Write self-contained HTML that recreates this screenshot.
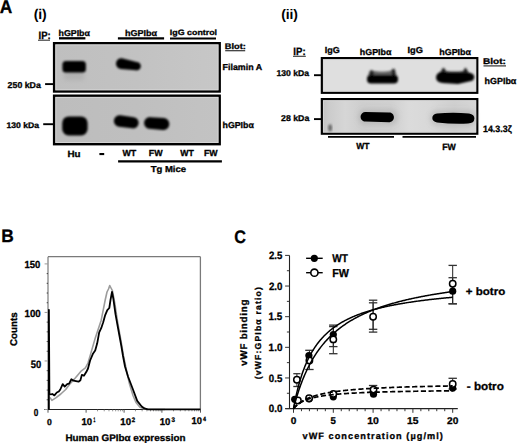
<!DOCTYPE html>
<html><head><meta charset="utf-8"><style>
html,body{margin:0;padding:0;background:#fff;}
body{width:520px;height:447px;overflow:hidden;}
svg{display:block;}
text{font-family:"Liberation Sans",sans-serif;fill:#000;stroke:#000;stroke-width:0.3px;text-rendering:geometricPrecision;}
</style></head><body>
<svg width="520" height="447" viewBox="0 0 520 447">
<defs>
<filter id="b0" x="-20%" y="-50%" width="140%" height="200%"><feGaussianBlur stdDeviation="0.6"/></filter>
<filter id="b1" x="-20%" y="-50%" width="140%" height="200%"><feGaussianBlur stdDeviation="0.9"/></filter>
<filter id="b2" x="-50%" y="-50%" width="200%" height="200%"><feGaussianBlur stdDeviation="2"/></filter>
<linearGradient id="gi1" x1="0" x2="1" y1="0" y2="0"><stop offset="0" stop-color="#bfbfbf"/><stop offset="0.5" stop-color="#c2c2c2"/><stop offset="1" stop-color="#c7c7c7"/></linearGradient>
<linearGradient id="gi2" x1="0" x2="1" y1="0" y2="0"><stop offset="0" stop-color="#bdbdbd"/><stop offset="0.5" stop-color="#bfbfbf"/><stop offset="1" stop-color="#c3c3c3"/></linearGradient>
<linearGradient id="g2" x1="0" x2="1" y1="0" y2="0"><stop offset="0" stop-color="#c2c2c2"/><stop offset="0.05" stop-color="#cccccc"/><stop offset="0.15" stop-color="#d6d6d6"/><stop offset="0.26" stop-color="#cecece"/><stop offset="0.45" stop-color="#d0d0d0"/><stop offset="0.56" stop-color="#dbdbdb"/><stop offset="0.7" stop-color="#d8d8d8"/><stop offset="0.85" stop-color="#cfcfcf"/><stop offset="1" stop-color="#d6d6d6"/></linearGradient>
</defs>
<text x="-0.13" y="12.50" font-size="18.41" font-weight="bold" textLength="12.50" lengthAdjust="spacingAndGlyphs" >A</text>
<text x="33.65" y="18.96" font-size="14.01" font-weight="bold" textLength="13.09" lengthAdjust="spacing" style="stroke-width:0">(i)</text>
<text x="38.53" y="38.90" font-size="10.72" font-weight="bold" textLength="12.15" lengthAdjust="spacingAndGlyphs" >IP:</text>
<line x1="38" y1="40.2" x2="50" y2="40.2" stroke="#333" stroke-width="1.1" />
<text x="58.53" y="35.70" font-size="8.55" font-weight="bold" textLength="31.40" lengthAdjust="spacingAndGlyphs" >hGPIb&#945;</text>
<line x1="59" y1="38.3" x2="85.4" y2="38.3" stroke="#000" stroke-width="2.3" />
<text x="124.92" y="35.70" font-size="8.55" font-weight="bold" textLength="32.01" lengthAdjust="spacingAndGlyphs" >hGPIb&#945;</text>
<line x1="117.9" y1="38.3" x2="164.1" y2="38.3" stroke="#000" stroke-width="2.3" />
<text x="169.87" y="35.10" font-size="7.72" font-weight="bold" textLength="47.22" lengthAdjust="spacingAndGlyphs" >IgG control</text>
<line x1="170" y1="38.4" x2="216" y2="38.4" stroke="#000" stroke-width="2" />
<rect x="54.1" y="43.2" width="165.6" height="48.300000000000004" fill="url(#gi1)" stroke="#000" stroke-width="2.4" />
<rect x="55.8" y="44.9" width="162.2" height="44.900000000000006" fill="none" stroke="#d8d8d8" stroke-width="1" opacity="0.8"/>
<rect x="54.1" y="95.7" width="165.6" height="48.50000000000001" fill="url(#gi2)" stroke="#000" stroke-width="2.4" />
<rect x="55.8" y="97.4" width="162.2" height="45.10000000000001" fill="none" stroke="#d8d8d8" stroke-width="1" opacity="0.8"/>
<text x="224.75" y="49.20" font-size="8.14" font-weight="bold" textLength="21.10" lengthAdjust="spacingAndGlyphs" >Blot:</text>
<line x1="225.2" y1="50.7" x2="245.2" y2="50.7" stroke="#333" stroke-width="1.2" />
<text x="222.57" y="70.40" font-size="8.69" font-weight="bold" textLength="39.53" lengthAdjust="spacingAndGlyphs" >Filamin A</text>
<text x="7.64" y="87.90" font-size="8.55" font-weight="bold" textLength="33.23" lengthAdjust="spacingAndGlyphs" >250 kDa</text>
<line x1="45.1" y1="84.1" x2="53" y2="84.1" stroke="#000" stroke-width="1.9" />
<text x="6.49" y="128.10" font-size="8.14" font-weight="bold" textLength="32.58" lengthAdjust="spacingAndGlyphs" >130 kDa</text>
<line x1="43.2" y1="124.2" x2="53" y2="124.2" stroke="#000" stroke-width="1.9" />
<text x="222.53" y="127.70" font-size="8.69" font-weight="bold" textLength="31.30" lengthAdjust="spacingAndGlyphs" >hGPIb&#945;</text>
<text x="67.51" y="156.60" font-size="8.99" font-weight="bold" textLength="13.11" lengthAdjust="spacingAndGlyphs" >Hu</text>
<rect x="99.4" y="153.0" width="4.8" height="2.1" fill="#000" stroke="none" stroke-width="0" />
<text x="122.45" y="156.10" font-size="8.70" font-weight="bold" textLength="13.79" lengthAdjust="spacingAndGlyphs" >WT</text>
<text x="148.77" y="156.10" font-size="8.70" font-weight="bold" textLength="13.82" lengthAdjust="spacingAndGlyphs" >FW</text>
<text x="180.15" y="156.10" font-size="8.70" font-weight="bold" textLength="13.58" lengthAdjust="spacingAndGlyphs" >WT</text>
<text x="203.98" y="156.10" font-size="8.70" font-weight="bold" textLength="13.71" lengthAdjust="spacingAndGlyphs" >FW</text>
<line x1="118.1" y1="161.4" x2="221.9" y2="161.4" stroke="#000" stroke-width="2.2" />
<text x="150.65" y="172.10" font-size="8.69" font-weight="bold" textLength="35.45" lengthAdjust="spacingAndGlyphs" >Tg Mice</text>
<rect x="64" y="70" width="20" height="10" fill="#8a8a8a" opacity="0.25" filter="url(#b2)"/>
<g filter="url(#b1)">
<rect x="62.4" y="60.9" width="23.5" height="11.5" rx="3.5" fill="#060606"/>
<path d="M116.00,63.60 L116.05,62.90 L116.18,62.20 L116.41,61.53 L116.72,60.90 L117.12,60.31 L117.58,59.78 L118.11,59.32 L118.70,58.92 L119.33,58.61 L120.00,58.38 L120.70,58.25 L121.40,58.20 L122.10,58.25 L122.80,58.38 L137.69,62.14 L138.21,62.32 L138.70,62.56 L139.16,62.87 L139.57,63.23 L139.93,63.64 L140.24,64.10 L140.48,64.59 L140.66,65.11 L140.76,65.65 L140.80,66.20 L140.76,66.75 L140.66,67.29 L140.48,67.81 L140.24,68.30 L139.93,68.76 L139.57,69.17 L139.16,69.53 L138.70,69.84 L138.21,70.08 L137.69,70.26 L137.15,70.36 L136.60,70.40 L136.05,70.36 L120.70,68.95 L120.00,68.82 L119.33,68.59 L118.70,68.28 L118.11,67.88 L117.58,67.42 L117.12,66.89 L116.72,66.30 L116.41,65.67 L116.18,65.00 L116.05,64.30Z" fill="#050505"/>
<rect x="62.2" y="116.4" width="25.4" height="19.1" rx="6.5" fill="#030303"/>
<path d="M113.90,121.00 L113.95,120.26 L114.09,119.52 L114.33,118.82 L114.66,118.15 L115.08,117.53 L115.57,116.97 L116.13,116.48 L116.75,116.06 L117.42,115.73 L118.12,115.49 L118.86,115.35 L119.60,115.30 L120.34,115.35 L133.73,117.25 L134.45,117.39 L135.14,117.63 L135.80,117.95 L136.41,118.36 L136.96,118.84 L137.44,119.39 L137.85,120.00 L138.17,120.66 L138.41,121.35 L138.55,122.07 L138.60,122.80 L138.55,123.53 L138.41,124.25 L138.17,124.94 L137.85,125.60 L137.44,126.21 L136.96,126.76 L136.41,127.24 L135.80,127.65 L135.14,127.97 L134.45,128.21 L133.73,128.35 L133.00,128.40 L132.27,128.35 L118.86,126.65 L118.12,126.51 L117.42,126.27 L116.75,125.94 L116.13,125.52 L115.57,125.03 L115.08,124.47 L114.66,123.85 L114.33,123.18 L114.09,122.48 L113.95,121.74Z" fill="#050505"/>
<path d="M144.10,123.00 L144.15,122.23 L144.30,121.47 L144.55,120.74 L144.89,120.05 L145.32,119.41 L145.83,118.83 L146.41,118.32 L147.05,117.89 L147.74,117.55 L148.47,117.30 L149.23,117.15 L150.00,117.10 L150.77,117.15 L164.08,118.05 L164.85,118.20 L165.60,118.46 L166.30,118.80 L166.95,119.24 L167.54,119.76 L168.06,120.35 L168.50,121.00 L168.84,121.70 L169.10,122.45 L169.25,123.22 L169.30,124.00 L169.25,124.78 L169.10,125.55 L168.84,126.30 L168.50,127.00 L168.06,127.65 L167.54,128.24 L166.95,128.76 L166.30,129.20 L165.60,129.54 L164.85,129.80 L164.08,129.95 L163.30,130.00 L162.52,129.95 L149.23,128.85 L148.47,128.70 L147.74,128.45 L147.05,128.11 L146.41,127.68 L145.83,127.17 L145.32,126.59 L144.89,125.95 L144.55,125.26 L144.30,124.53 L144.15,123.77Z" fill="#050505"/>
</g>
<line x1="82.2" y1="110.5" x2="82.2" y2="119" stroke="#222" stroke-width="2" filter="url(#b1)"/>
<line x1="83.5" y1="133" x2="83.5" y2="143" stroke="#666" stroke-width="1" opacity="0.6" filter="url(#b1)"/>
<text x="281.15" y="18.98" font-size="13.90" font-weight="bold" textLength="16.64" lengthAdjust="spacing" style="stroke-width:0">(ii)</text>
<text x="293.33" y="54.50" font-size="10.58" font-weight="bold" textLength="12.26" lengthAdjust="spacingAndGlyphs" >IP:</text>
<line x1="293" y1="56.3" x2="305.8" y2="56.3" stroke="#333" stroke-width="1.1" />
<text x="324.66" y="53.20" font-size="8.71" font-weight="bold" textLength="15.04" lengthAdjust="spacingAndGlyphs" >IgG</text>
<text x="359.83" y="54.60" font-size="8.69" font-weight="bold" textLength="31.60" lengthAdjust="spacingAndGlyphs" >hGPIb&#945;</text>
<text x="407.55" y="53.20" font-size="8.71" font-weight="bold" textLength="15.47" lengthAdjust="spacingAndGlyphs" >IgG</text>
<text x="439.22" y="54.60" font-size="8.69" font-weight="bold" textLength="31.81" lengthAdjust="spacingAndGlyphs" >hGPIb&#945;</text>
<rect x="321.85" y="58.1" width="155.45" height="34.7" fill="#dfdfdf" stroke="#000" stroke-width="2.2" />
<rect x="323.45" y="59.7" width="152.24999999999997" height="31.500000000000007" fill="none" stroke="#d8d8d8" stroke-width="1" opacity="0.8"/>
<rect x="321.85" y="99.1" width="155.45" height="34.60000000000001" fill="url(#g2)" stroke="#000" stroke-width="2.2" />
<rect x="323.45" y="100.7" width="152.24999999999997" height="31.400000000000013" fill="none" stroke="#d8d8d8" stroke-width="1" opacity="0.8"/>
<text x="483.00" y="63.70" font-size="8.28" font-weight="bold" textLength="22.93" lengthAdjust="spacingAndGlyphs" >Blot:</text>
<line x1="483.5" y1="65.9" x2="506" y2="65.9" stroke="#333" stroke-width="1.2" />
<text x="484.63" y="84.30" font-size="8.83" font-weight="bold" textLength="31.70" lengthAdjust="spacingAndGlyphs" >hGPIb&#945;</text>
<text x="482.97" y="131.70" font-size="9.24" font-weight="bold" textLength="28.82" lengthAdjust="spacingAndGlyphs" >14.3.3&#950;</text>
<text x="276.49" y="76.00" font-size="8.41" font-weight="bold" textLength="32.68" lengthAdjust="spacingAndGlyphs" >130 kDa</text>
<line x1="314" y1="75.2" x2="321" y2="75.2" stroke="#000" stroke-width="1.9" />
<text x="281.04" y="120.80" font-size="8.41" font-weight="bold" textLength="28.22" lengthAdjust="spacingAndGlyphs" >28 kDa</text>
<line x1="314" y1="119.1" x2="321" y2="119.1" stroke="#000" stroke-width="1.9" />
<line x1="328" y1="136.9" x2="394" y2="136.9" stroke="#000" stroke-width="1.6" />
<line x1="402.5" y1="136.9" x2="476" y2="136.9" stroke="#000" stroke-width="1.6" />
<text x="356.25" y="149.00" font-size="8.70" font-weight="bold" textLength="13.28" lengthAdjust="spacingAndGlyphs" >WT</text>
<text x="442.18" y="149.50" font-size="8.99" font-weight="bold" textLength="13.61" lengthAdjust="spacingAndGlyphs" >FW</text>
<g filter="url(#b1)">
<rect x="358" y="109" width="40" height="16" rx="7" fill="#999" opacity="0.35" filter="url(#b2)"/>
<rect x="430" y="110" width="46" height="16" rx="7" fill="#999" opacity="0.35" filter="url(#b2)"/>
<path d="M367.5,77 L370,70.5 L374,71 Q382,72.5 390,71 L393.5,68.5 L397.5,77 Z" fill="#4a4a4a" opacity="0.85"/>
<ellipse cx="371.6" cy="73.5" rx="2" ry="3.3" fill="#222"/>
<ellipse cx="393.6" cy="72.5" rx="1.8" ry="3.8" fill="#222"/>
<rect x="367.0" y="75.0" width="31" height="8.6" rx="4" fill="#050505"/>
<path d="M437,77 L441,71 L443.5,67.5 L446,71 Q455,72 463,71 L465.5,67.5 L468,71.5 L473,77 Z" fill="#333" opacity="0.9"/>
<ellipse cx="443.5" cy="71.5" rx="2" ry="3.3" fill="#222"/>
<ellipse cx="465.5" cy="71.8" rx="1.8" ry="3.5" fill="#222"/>
<path d="M436,77.5 Q436.5,72 442,72 L468,72.5 Q474.3,73 474.3,77 Q474.3,81 469,81.5 L458,84 L446,83.2 Q436,83.5 436,77.5Z" fill="#050505"/>
</g>
<g filter="url(#b0)">
<path d="M360.60,116.80 L360.64,116.17 L360.76,115.56 L360.97,114.96 L361.24,114.40 L361.59,113.88 L362.01,113.41 L362.48,112.99 L363.00,112.64 L363.56,112.37 L364.16,112.16 L364.77,112.04 L365.40,112.00 L389.00,112.40 L389.64,112.44 L390.27,112.57 L390.88,112.77 L391.45,113.06 L391.98,113.41 L392.46,113.84 L392.89,114.32 L393.24,114.85 L393.53,115.42 L393.73,116.03 L393.86,116.66 L393.90,117.30 L393.86,117.94 L393.73,118.57 L393.53,119.18 L393.24,119.75 L392.89,120.28 L392.46,120.76 L391.98,121.19 L391.45,121.54 L390.88,121.83 L390.27,122.03 L389.64,122.16 L389.00,122.20 L365.40,121.60 L364.77,121.56 L364.16,121.44 L363.56,121.23 L363.00,120.96 L362.48,120.61 L362.01,120.19 L361.59,119.72 L361.24,119.20 L360.97,118.64 L360.76,118.04 L360.64,117.43Z" fill="#050505"/>
<path d="M437,113.6 Q452,112.2 469,113.5 Q474.6,114.5 474.4,118.5 Q474.2,123.3 468,123.5 Q452,124.2 437,122.4 Q432.2,121.4 432.3,118 Q432.4,114.3 437,113.6Z" fill="#050505"/>
</g>
<ellipse cx="330.1" cy="127.8" rx="2" ry="3.6" fill="#555" opacity="0.8" filter="url(#b1)"/>
<text x="1.17" y="241.90" font-size="18.12" font-weight="bold" textLength="12.55" lengthAdjust="spacingAndGlyphs" >B</text>
<line x1="48.0" y1="256.7" x2="200.4" y2="256.7" stroke="#7a7a7a" stroke-width="1.3" />
<line x1="200.4" y1="256.7" x2="200.4" y2="409.5" stroke="#7a7a7a" stroke-width="1.3" />
<line x1="48.0" y1="256.7" x2="48.0" y2="409.5" stroke="#7a7a7a" stroke-width="1.2" />
<line x1="44.3" y1="409.5" x2="200.4" y2="409.5" stroke="#222" stroke-width="1.1" />
<line x1="44.6" y1="409.5" x2="48.0" y2="409.5" stroke="#999" stroke-width="1.0" />
<line x1="46.7" y1="399.79333333333335" x2="48.0" y2="399.79333333333335" stroke="#444" stroke-width="1.0" />
<line x1="46.7" y1="390.08666666666664" x2="48.0" y2="390.08666666666664" stroke="#444" stroke-width="1.0" />
<line x1="46.7" y1="380.38" x2="48.0" y2="380.38" stroke="#444" stroke-width="1.0" />
<line x1="46.7" y1="370.67333333333335" x2="48.0" y2="370.67333333333335" stroke="#444" stroke-width="1.0" />
<line x1="44.6" y1="360.96666666666664" x2="48.0" y2="360.96666666666664" stroke="#999" stroke-width="1.0" />
<line x1="46.7" y1="351.26" x2="48.0" y2="351.26" stroke="#444" stroke-width="1.0" />
<line x1="46.7" y1="341.55333333333334" x2="48.0" y2="341.55333333333334" stroke="#444" stroke-width="1.0" />
<line x1="46.7" y1="331.8466666666667" x2="48.0" y2="331.8466666666667" stroke="#444" stroke-width="1.0" />
<line x1="46.7" y1="322.14" x2="48.0" y2="322.14" stroke="#444" stroke-width="1.0" />
<line x1="44.6" y1="312.43333333333334" x2="48.0" y2="312.43333333333334" stroke="#999" stroke-width="1.0" />
<line x1="46.7" y1="302.7266666666667" x2="48.0" y2="302.7266666666667" stroke="#444" stroke-width="1.0" />
<line x1="46.7" y1="293.02" x2="48.0" y2="293.02" stroke="#444" stroke-width="1.0" />
<line x1="46.7" y1="283.31333333333333" x2="48.0" y2="283.31333333333333" stroke="#444" stroke-width="1.0" />
<line x1="46.7" y1="273.6066666666667" x2="48.0" y2="273.6066666666667" stroke="#444" stroke-width="1.0" />
<line x1="44.6" y1="263.9" x2="48.0" y2="263.9" stroke="#999" stroke-width="1.0" />
<text x="24.43" y="267.50" font-size="10.29" font-weight="bold" textLength="15.83" lengthAdjust="spacingAndGlyphs" >150</text>
<text x="24.52" y="317.30" font-size="10.29" font-weight="bold" textLength="16.26" lengthAdjust="spacingAndGlyphs" >100</text>
<text x="30.87" y="367.60" font-size="10.57" font-weight="bold" textLength="10.48" lengthAdjust="spacingAndGlyphs" >50</text>
<text x="33.82" y="416.40" font-size="10.14" font-weight="bold" textLength="4.57" lengthAdjust="spacingAndGlyphs" >0</text>
<text transform="translate(16.90,345.94) rotate(-90)" x="0" y="0" font-size="9.79" font-weight="bold" textLength="33.57" lengthAdjust="spacingAndGlyphs">Counts</text>
<text x="46.90" y="424.50" font-size="8.71" font-weight="bold" textLength="4.80" lengthAdjust="spacingAndGlyphs" >0</text>
<text x="81.43" y="424.80" font-size="9.86" font-weight="bold" textLength="10.63" lengthAdjust="spacingAndGlyphs" >10</text>
<text x="93.44" y="421.90" font-size="6.52" font-weight="bold" textLength="1.79" lengthAdjust="spacingAndGlyphs" >1</text>
<line x1="86.1" y1="409.5" x2="86.1" y2="412.7" stroke="#444" stroke-width="0.9" />
<text x="120.32" y="424.80" font-size="9.86" font-weight="bold" textLength="10.74" lengthAdjust="spacingAndGlyphs" >10</text>
<text x="131.74" y="421.90" font-size="6.43" font-weight="bold" textLength="3.36" lengthAdjust="spacingAndGlyphs" >2</text>
<line x1="124.1" y1="409.5" x2="124.1" y2="412.7" stroke="#444" stroke-width="0.9" />
<text x="159.73" y="424.80" font-size="9.86" font-weight="bold" textLength="10.63" lengthAdjust="spacingAndGlyphs" >10</text>
<text x="171.39" y="421.90" font-size="6.71" font-weight="bold" textLength="3.48" lengthAdjust="spacingAndGlyphs" >3</text>
<line x1="161.9" y1="409.5" x2="161.9" y2="412.7" stroke="#444" stroke-width="0.9" />
<text x="191.54" y="424.20" font-size="9.86" font-weight="bold" textLength="10.40" lengthAdjust="spacingAndGlyphs" >10</text>
<text x="202.97" y="420.60" font-size="6.09" font-weight="bold" textLength="3.01" lengthAdjust="spacingAndGlyphs" >4</text>
<line x1="200.5" y1="409.5" x2="200.5" y2="412.7" stroke="#444" stroke-width="0.9" />
<line x1="48.0" y1="409.5" x2="48.0" y2="412.7" stroke="#444" stroke-width="0.9" />
<line x1="97.54" y1="409.5" x2="97.54" y2="411.3" stroke="#666" stroke-width="0.7" />
<line x1="104.23" y1="409.5" x2="104.23" y2="411.3" stroke="#666" stroke-width="0.7" />
<line x1="108.98" y1="409.5" x2="108.98" y2="411.3" stroke="#666" stroke-width="0.7" />
<line x1="112.66" y1="409.5" x2="112.66" y2="411.3" stroke="#666" stroke-width="0.7" />
<line x1="115.67" y1="409.5" x2="115.67" y2="411.3" stroke="#666" stroke-width="0.7" />
<line x1="118.21" y1="409.5" x2="118.21" y2="411.3" stroke="#666" stroke-width="0.7" />
<line x1="120.42" y1="409.5" x2="120.42" y2="411.3" stroke="#666" stroke-width="0.7" />
<line x1="122.36" y1="409.5" x2="122.36" y2="411.3" stroke="#666" stroke-width="0.7" />
<line x1="135.48" y1="409.5" x2="135.48" y2="411.3" stroke="#666" stroke-width="0.7" />
<line x1="142.14" y1="409.5" x2="142.14" y2="411.3" stroke="#666" stroke-width="0.7" />
<line x1="146.86" y1="409.5" x2="146.86" y2="411.3" stroke="#666" stroke-width="0.7" />
<line x1="150.52" y1="409.5" x2="150.52" y2="411.3" stroke="#666" stroke-width="0.7" />
<line x1="153.51" y1="409.5" x2="153.51" y2="411.3" stroke="#666" stroke-width="0.7" />
<line x1="156.04" y1="409.5" x2="156.04" y2="411.3" stroke="#666" stroke-width="0.7" />
<line x1="158.24" y1="409.5" x2="158.24" y2="411.3" stroke="#666" stroke-width="0.7" />
<line x1="160.17" y1="409.5" x2="160.17" y2="411.3" stroke="#666" stroke-width="0.7" />
<line x1="173.52" y1="409.5" x2="173.52" y2="411.3" stroke="#666" stroke-width="0.7" />
<line x1="180.32" y1="409.5" x2="180.32" y2="411.3" stroke="#666" stroke-width="0.7" />
<line x1="185.14" y1="409.5" x2="185.14" y2="411.3" stroke="#666" stroke-width="0.7" />
<line x1="188.88" y1="409.5" x2="188.88" y2="411.3" stroke="#666" stroke-width="0.7" />
<line x1="191.94" y1="409.5" x2="191.94" y2="411.3" stroke="#666" stroke-width="0.7" />
<line x1="194.52" y1="409.5" x2="194.52" y2="411.3" stroke="#666" stroke-width="0.7" />
<line x1="196.76" y1="409.5" x2="196.76" y2="411.3" stroke="#666" stroke-width="0.7" />
<line x1="198.73" y1="409.5" x2="198.73" y2="411.3" stroke="#666" stroke-width="0.7" />
<text x="65.41" y="441.30" font-size="9.52" font-weight="bold" textLength="120.02" lengthAdjust="spacingAndGlyphs" >Human GPIb&#945; expression</text>
<polyline points="49.90,397.40 51.90,400.40 55.80,397.90 60.80,394.00 65.70,389.50 70.60,383.10 75.50,377.70 81.40,370.80 85.40,367.90 88.00,363.00 91.10,352.40 95.20,338.30 99.20,326.20 101.20,320.20 103.20,310.10 105.20,300.00 107.00,292.00 108.50,289.00 109.75,285.60 111.00,288.00 112.40,290.70 114.80,303.20 117.10,318.90 119.00,330.00 121.00,341.00 123.50,356.00 126.50,370.50 129.50,384.00 133.00,395.50 136.00,402.50 140.00,407.30 145.00,409.20 165.00,409.50" fill="none" stroke="#9c9c9c" stroke-width="1.6" stroke-linejoin="round"/>
<polyline points="48.90,409.50 48.90,309.80 49.40,394.00 50.90,394.40 52.40,394.00 54.40,395.40 56.80,392.50 58.80,391.50 60.30,389.50 62.70,384.10 64.70,386.60 67.20,384.10 69.10,383.60 71.40,379.20 73.60,380.70 76.00,381.20 78.50,381.70 80.40,380.20 81.90,374.80 83.90,375.70 86.40,371.80 88.00,368.50 90.10,360.50 93.10,353.40 95.20,350.40 97.20,343.30 99.20,332.30 101.20,328.20 103.20,322.20 105.20,315.10 107.30,310.10 109.30,308.00 110.50,300.00 112.00,291.90 113.30,298.50 115.50,314.20 117.30,324.20 119.50,336.00 121.40,346.40 123.00,356.00 125.00,366.50 128.10,376.70 132.70,388.80 137.20,400.90 141.70,406.50 144.50,408.50 148.00,409.30 200.40,409.30" fill="none" stroke="#000" stroke-width="1.8" stroke-linejoin="round"/>
<text x="234.35" y="242.90" font-size="18.14" font-weight="bold" textLength="11.69" lengthAdjust="spacingAndGlyphs" >C</text>
<line x1="289.5" y1="255.4" x2="289.5" y2="408.6" stroke="#222" stroke-width="1.1" />
<line x1="285.3" y1="408.6" x2="457.8" y2="408.6" stroke="#222" stroke-width="1.1" />
<line x1="285.1" y1="408.6" x2="289.5" y2="408.6" stroke="#333" stroke-width="1" />
<line x1="286.9" y1="393.28000000000003" x2="289.5" y2="393.28000000000003" stroke="#333" stroke-width="1" />
<line x1="285.1" y1="377.96000000000004" x2="289.5" y2="377.96000000000004" stroke="#333" stroke-width="1" />
<line x1="286.9" y1="362.64" x2="289.5" y2="362.64" stroke="#333" stroke-width="1" />
<line x1="285.1" y1="347.32" x2="289.5" y2="347.32" stroke="#333" stroke-width="1" />
<line x1="286.9" y1="332.0" x2="289.5" y2="332.0" stroke="#333" stroke-width="1" />
<line x1="285.1" y1="316.68" x2="289.5" y2="316.68" stroke="#333" stroke-width="1" />
<line x1="286.9" y1="301.36" x2="289.5" y2="301.36" stroke="#333" stroke-width="1" />
<line x1="285.1" y1="286.04" x2="289.5" y2="286.04" stroke="#333" stroke-width="1" />
<line x1="286.9" y1="270.72" x2="289.5" y2="270.72" stroke="#333" stroke-width="1" />
<line x1="285.1" y1="255.4" x2="289.5" y2="255.4" stroke="#333" stroke-width="1" />
<text x="268.86" y="412.20" font-size="10.71" font-weight="bold" textLength="13.58" lengthAdjust="spacingAndGlyphs" >0.0</text>
<text x="268.86" y="381.56" font-size="10.71" font-weight="bold" textLength="13.43" lengthAdjust="spacingAndGlyphs" >0.5</text>
<text x="268.60" y="350.92" font-size="10.71" font-weight="bold" textLength="13.85" lengthAdjust="spacingAndGlyphs" >1.0</text>
<text x="268.61" y="320.28" font-size="10.87" font-weight="bold" textLength="13.69" lengthAdjust="spacingAndGlyphs" >1.5</text>
<text x="268.91" y="289.64" font-size="10.71" font-weight="bold" textLength="13.53" lengthAdjust="spacingAndGlyphs" >2.0</text>
<text x="268.91" y="259.00" font-size="10.71" font-weight="bold" textLength="13.38" lengthAdjust="spacingAndGlyphs" >2.5</text>
<line x1="293.5" y1="408.6" x2="293.5" y2="412.8" stroke="#333" stroke-width="1" />
<line x1="301.46" y1="408.6" x2="301.46" y2="411.20000000000005" stroke="#333" stroke-width="1" />
<line x1="309.42" y1="408.6" x2="309.42" y2="411.20000000000005" stroke="#333" stroke-width="1" />
<line x1="317.38" y1="408.6" x2="317.38" y2="411.20000000000005" stroke="#333" stroke-width="1" />
<line x1="325.34" y1="408.6" x2="325.34" y2="411.20000000000005" stroke="#333" stroke-width="1" />
<line x1="333.3" y1="408.6" x2="333.3" y2="412.8" stroke="#333" stroke-width="1" />
<line x1="341.26" y1="408.6" x2="341.26" y2="411.20000000000005" stroke="#333" stroke-width="1" />
<line x1="349.22" y1="408.6" x2="349.22" y2="411.20000000000005" stroke="#333" stroke-width="1" />
<line x1="357.18" y1="408.6" x2="357.18" y2="411.20000000000005" stroke="#333" stroke-width="1" />
<line x1="365.14" y1="408.6" x2="365.14" y2="411.20000000000005" stroke="#333" stroke-width="1" />
<line x1="373.1" y1="408.6" x2="373.1" y2="412.8" stroke="#333" stroke-width="1" />
<line x1="381.06" y1="408.6" x2="381.06" y2="411.20000000000005" stroke="#333" stroke-width="1" />
<line x1="389.02" y1="408.6" x2="389.02" y2="411.20000000000005" stroke="#333" stroke-width="1" />
<line x1="396.98" y1="408.6" x2="396.98" y2="411.20000000000005" stroke="#333" stroke-width="1" />
<line x1="404.94" y1="408.6" x2="404.94" y2="411.20000000000005" stroke="#333" stroke-width="1" />
<line x1="412.9" y1="408.6" x2="412.9" y2="412.8" stroke="#333" stroke-width="1" />
<line x1="420.86" y1="408.6" x2="420.86" y2="411.20000000000005" stroke="#333" stroke-width="1" />
<line x1="428.82" y1="408.6" x2="428.82" y2="411.20000000000005" stroke="#333" stroke-width="1" />
<line x1="436.78" y1="408.6" x2="436.78" y2="411.20000000000005" stroke="#333" stroke-width="1" />
<line x1="444.74" y1="408.6" x2="444.74" y2="411.20000000000005" stroke="#333" stroke-width="1" />
<line x1="452.7" y1="408.6" x2="452.7" y2="412.8" stroke="#333" stroke-width="1" />
<text x="290.70" y="423.80" font-size="9.86" font-weight="bold" textLength="5.62" lengthAdjust="spacingAndGlyphs" >0</text>
<text x="330.61" y="423.80" font-size="10.00" font-weight="bold" textLength="5.34" lengthAdjust="spacingAndGlyphs" >5</text>
<text x="367.17" y="423.80" font-size="9.86" font-weight="bold" textLength="11.62" lengthAdjust="spacingAndGlyphs" >10</text>
<text x="406.98" y="423.80" font-size="10.00" font-weight="bold" textLength="11.45" lengthAdjust="spacingAndGlyphs" >15</text>
<text x="447.09" y="423.80" font-size="9.86" font-weight="bold" textLength="11.28" lengthAdjust="spacingAndGlyphs" >20</text>
<text x="302.50" y="439.00" font-size="9.17" font-weight="bold" textLength="140.37" lengthAdjust="spacing" >vWF concentration (&#181;g/ml)</text>
<text transform="translate(246.80,365.70) rotate(-90)" x="0" y="0" font-size="9.72" font-weight="bold" textLength="66.07" lengthAdjust="spacing">vWF binding</text>
<text transform="translate(260.60,379.28) rotate(-90)" x="0" y="0" font-size="8.62" font-weight="bold" textLength="92.15" lengthAdjust="spacing">(vWF:GPIb&#945; ratio)</text>
<line x1="306.1" y1="258.3" x2="322.7" y2="258.3" stroke="#000" stroke-width="1.4" />
<circle cx="314.3" cy="258.3" r="3.6" fill="#000"/>
<text x="332.25" y="262.00" font-size="11.16" font-weight="bold" textLength="15.70" lengthAdjust="spacingAndGlyphs" >WT</text>
<line x1="306.1" y1="272.7" x2="322.7" y2="272.7" stroke="#000" stroke-width="1.4" />
<circle cx="314.4" cy="272.7" r="3.6" fill="#fff" stroke="#000" stroke-width="1.6"/>
<text x="332.15" y="276.70" font-size="11.59" font-weight="bold" textLength="16.75" lengthAdjust="spacingAndGlyphs" >FW</text>
<text x="465.89" y="294.80" font-size="10.76" font-weight="bold" textLength="39.34" lengthAdjust="spacingAndGlyphs" >+ botro</text>
<text x="466.78" y="390.30" font-size="11.31" font-weight="bold" textLength="37.04" lengthAdjust="spacingAndGlyphs" >- botro</text>
<line x1="296.9" y1="373.7" x2="296.9" y2="386.5" stroke="#222" stroke-width="1.0" />
<line x1="293.29999999999995" y1="373.7" x2="300.5" y2="373.7" stroke="#333" stroke-width="1.3" />
<line x1="293.29999999999995" y1="386.5" x2="300.5" y2="386.5" stroke="#333" stroke-width="1.3" />
<line x1="309.42" y1="350.3" x2="309.42" y2="369.5" stroke="#222" stroke-width="1.0" />
<line x1="305.22" y1="350.3" x2="313.62" y2="350.3" stroke="#333" stroke-width="1.3" />
<line x1="305.22" y1="369.5" x2="313.62" y2="369.5" stroke="#333" stroke-width="1.3" />
<line x1="333.3" y1="325.1" x2="333.3" y2="346.6" stroke="#222" stroke-width="1.0" />
<line x1="329.1" y1="325.1" x2="337.5" y2="325.1" stroke="#333" stroke-width="1.3" />
<line x1="329.1" y1="346.6" x2="337.5" y2="346.6" stroke="#333" stroke-width="1.3" />
<line x1="333.3" y1="326.6" x2="333.3" y2="353.7" stroke="#222" stroke-width="1.0" />
<line x1="329.1" y1="326.6" x2="337.5" y2="326.6" stroke="#333" stroke-width="1.3" />
<line x1="329.1" y1="353.7" x2="337.5" y2="353.7" stroke="#333" stroke-width="1.3" />
<line x1="373.1" y1="300.2" x2="373.1" y2="329.3" stroke="#222" stroke-width="1.0" />
<line x1="368.90000000000003" y1="300.2" x2="377.3" y2="300.2" stroke="#333" stroke-width="1.3" />
<line x1="368.90000000000003" y1="329.3" x2="377.3" y2="329.3" stroke="#333" stroke-width="1.3" />
<line x1="373.1" y1="302.8" x2="373.1" y2="332.1" stroke="#222" stroke-width="1.0" />
<line x1="368.90000000000003" y1="302.8" x2="377.3" y2="302.8" stroke="#333" stroke-width="1.3" />
<line x1="368.90000000000003" y1="332.1" x2="377.3" y2="332.1" stroke="#333" stroke-width="1.3" />
<line x1="452.7" y1="265.4" x2="452.7" y2="303.8" stroke="#222" stroke-width="1.0" />
<line x1="448.5" y1="265.4" x2="456.9" y2="265.4" stroke="#333" stroke-width="1.3" />
<line x1="448.5" y1="303.8" x2="456.9" y2="303.8" stroke="#333" stroke-width="1.3" />
<line x1="452.7" y1="277.7" x2="452.7" y2="303.8" stroke="#222" stroke-width="1.0" />
<line x1="448.5" y1="277.7" x2="456.9" y2="277.7" stroke="#333" stroke-width="1.3" />
<line x1="448.5" y1="303.8" x2="456.9" y2="303.8" stroke="#333" stroke-width="1.3" />
<line x1="373.1" y1="385.5" x2="373.1" y2="392" stroke="#222" stroke-width="1.0" />
<line x1="368.90000000000003" y1="385.5" x2="377.3" y2="385.5" stroke="#333" stroke-width="1.3" />
<line x1="368.90000000000003" y1="392" x2="377.3" y2="392" stroke="#333" stroke-width="1.3" />
<line x1="452.7" y1="378.3" x2="452.7" y2="389" stroke="#222" stroke-width="1.0" />
<line x1="448.5" y1="378.3" x2="456.9" y2="378.3" stroke="#333" stroke-width="1.3" />
<line x1="448.5" y1="389" x2="456.9" y2="389" stroke="#333" stroke-width="1.3" />
<circle cx="308.90" cy="355.60" r="3.6" fill="#000"/>
<circle cx="333.30" cy="334.50" r="3.6" fill="#000"/>
<circle cx="452.70" cy="291.20" r="3.6" fill="#000"/>
<circle cx="296.90" cy="379.80" r="3.2" fill="#fff" stroke="#000" stroke-width="1.5"/>
<circle cx="309.40" cy="360.50" r="3.2" fill="#fff" stroke="#000" stroke-width="1.5"/>
<circle cx="333.30" cy="339.40" r="3.2" fill="#fff" stroke="#000" stroke-width="1.5"/>
<circle cx="373.10" cy="316.70" r="3.2" fill="#fff" stroke="#000" stroke-width="1.5"/>
<circle cx="452.70" cy="283.80" r="3.2" fill="#fff" stroke="#000" stroke-width="1.5"/>
<circle cx="294.70" cy="399.30" r="3.6" fill="#000"/>
<circle cx="297.90" cy="400.50" r="3.2" fill="#fff" stroke="#000" stroke-width="1.5"/>
<circle cx="309.10" cy="398.80" r="3.6" fill="#000"/>
<circle cx="309.10" cy="398.30" r="3.2" fill="#fff" stroke="#000" stroke-width="1.5"/>
<circle cx="333.30" cy="396.80" r="3.6" fill="#000"/>
<circle cx="333.30" cy="393.90" r="3.2" fill="#fff" stroke="#000" stroke-width="1.5"/>
<circle cx="373.50" cy="394.20" r="3.6" fill="#000"/>
<circle cx="373.50" cy="389.60" r="3.2" fill="#fff" stroke="#000" stroke-width="1.5"/>
<circle cx="452.70" cy="388.10" r="3.6" fill="#000"/>
<circle cx="452.70" cy="384.00" r="3.2" fill="#fff" stroke="#000" stroke-width="1.5"/>
<polyline points="293.50,408.60 294.30,405.54 295.09,402.60 295.89,399.78 296.68,397.08 297.48,394.48 298.28,391.98 299.07,389.58 299.87,387.27 300.66,385.04 301.46,382.88 302.26,380.81 303.05,378.81 303.85,376.87 304.64,375.00 305.44,373.19 306.24,371.44 307.03,369.74 307.83,368.10 308.62,366.51 309.42,364.96 310.22,363.46 311.01,362.01 311.81,360.60 312.60,359.23 313.40,357.89 314.20,356.60 314.99,355.34 315.79,354.11 316.58,352.92 317.38,351.75 318.18,350.62 318.97,349.52 319.77,348.44 320.56,347.40 321.36,346.37 322.16,345.38 322.95,344.40 323.75,343.45 324.54,342.53 325.34,341.62 326.14,340.73 326.93,339.87 327.73,339.02 328.52,338.20 329.32,337.39 330.12,336.60 330.91,335.82 331.71,335.06 332.50,334.32 333.30,333.60 334.10,332.88 334.89,332.19 335.69,331.50 336.48,330.84 337.28,330.18 338.08,329.54 338.87,328.91 339.67,328.29 340.46,327.68 341.26,327.09 342.06,326.50 342.85,325.93 343.65,325.37 344.44,324.81 345.24,324.27 346.04,323.74 346.83,323.21 347.63,322.70 348.42,322.20 349.22,321.70 350.02,321.21 350.81,320.73 351.61,320.26 352.40,319.80 353.20,319.34 354.00,318.89 354.79,318.45 355.59,318.01 356.38,317.59 357.18,317.17 357.98,316.75 358.77,316.34 359.57,315.94 360.36,315.55 361.16,315.16 361.96,314.78 362.75,314.40 363.55,314.03 364.34,313.66 365.14,313.30 365.94,312.95 366.73,312.59 367.53,312.25 368.32,311.91 369.12,311.57 369.92,311.24 370.71,310.92 371.51,310.59 372.30,310.28 373.10,309.96 373.90,309.66 374.69,309.35 375.49,309.05 376.28,308.75 377.08,308.46 377.88,308.17 378.67,307.89 379.47,307.61 380.26,307.33 381.06,307.06 381.86,306.79 382.65,306.52 383.45,306.25 384.24,305.99 385.04,305.74 385.84,305.48 386.63,305.23 387.43,304.98 388.22,304.74 389.02,304.50 389.82,304.26 390.61,304.02 391.41,303.79 392.20,303.56 393.00,303.33 393.80,303.11 394.59,302.88 395.39,302.66 396.18,302.45 396.98,302.23 397.78,302.02 398.57,301.81 399.37,301.60 400.16,301.39 400.96,301.19 401.76,300.99 402.55,300.79 403.35,300.59 404.14,300.40 404.94,300.21 405.74,300.02 406.53,299.83 407.33,299.64 408.12,299.46 408.92,299.27 409.72,299.09 410.51,298.92 411.31,298.74 412.10,298.56 412.90,298.39 413.70,298.22 414.49,298.05 415.29,297.88 416.08,297.71 416.88,297.55 417.68,297.39 418.47,297.22 419.27,297.06 420.06,296.91 420.86,296.75 421.66,296.59 422.45,296.44 423.25,296.29 424.04,296.14 424.84,295.99 425.64,295.84 426.43,295.69 427.23,295.55 428.02,295.40 428.82,295.26 429.62,295.12 430.41,294.98 431.21,294.84 432.00,294.70 432.80,294.57 433.60,294.43 434.39,294.30 435.19,294.17 435.98,294.03 436.78,293.90 437.58,293.77 438.37,293.65 439.17,293.52 439.96,293.39 440.76,293.27 441.56,293.15 442.35,293.02 443.15,292.90 443.94,292.78 444.74,292.66 445.54,292.54 446.33,292.43 447.13,292.31 447.92,292.19 448.72,292.08 449.52,291.97 450.31,291.85 451.11,291.74 451.90,291.63 452.70,291.52" fill="none" stroke="#000" stroke-width="1.5"/>
<polyline points="293.50,408.60 294.30,404.35 295.09,400.38 295.89,396.65 296.68,393.15 297.48,389.86 298.28,386.75 299.07,383.82 299.87,381.04 300.66,378.41 301.46,375.92 302.26,373.55 303.05,371.29 303.85,369.15 304.64,367.10 305.44,365.15 306.24,363.28 307.03,361.49 307.83,359.78 308.62,358.15 309.42,356.57 310.22,355.07 311.01,353.62 311.81,352.22 312.60,350.88 313.40,349.59 314.20,348.35 314.99,347.14 315.79,345.99 316.58,344.87 317.38,343.79 318.18,342.74 318.97,341.73 319.77,340.76 320.56,339.81 321.36,338.89 322.16,338.01 322.95,337.14 323.75,336.31 324.54,335.50 325.34,334.71 326.14,333.94 326.93,333.20 327.73,332.48 328.52,331.77 329.32,331.09 330.12,330.42 330.91,329.77 331.71,329.14 332.50,328.53 333.30,327.93 334.10,327.34 334.89,326.77 335.69,326.22 336.48,325.67 337.28,325.14 338.08,324.62 338.87,324.12 339.67,323.63 340.46,323.14 341.26,322.67 342.06,322.21 342.85,321.76 343.65,321.32 344.44,320.88 345.24,320.46 346.04,320.05 346.83,319.64 347.63,319.24 348.42,318.86 349.22,318.48 350.02,318.10 350.81,317.74 351.61,317.38 352.40,317.03 353.20,316.68 354.00,316.34 354.79,316.01 355.59,315.68 356.38,315.36 357.18,315.05 357.98,314.74 358.77,314.44 359.57,314.14 360.36,313.85 361.16,313.56 361.96,313.28 362.75,313.00 363.55,312.73 364.34,312.46 365.14,312.20 365.94,311.94 366.73,311.69 367.53,311.44 368.32,311.19 369.12,310.95 369.92,310.71 370.71,310.47 371.51,310.24 372.30,310.02 373.10,309.79 373.90,309.57 374.69,309.35 375.49,309.14 376.28,308.93 377.08,308.72 377.88,308.52 378.67,308.32 379.47,308.12 380.26,307.92 381.06,307.73 381.86,307.54 382.65,307.35 383.45,307.17 384.24,306.99 385.04,306.81 385.84,306.63 386.63,306.46 387.43,306.28 388.22,306.11 389.02,305.95 389.82,305.78 390.61,305.62 391.41,305.46 392.20,305.30 393.00,305.14 393.80,304.99 394.59,304.83 395.39,304.68 396.18,304.53 396.98,304.39 397.78,304.24 398.57,304.10 399.37,303.95 400.16,303.81 400.96,303.68 401.76,303.54 402.55,303.41 403.35,303.27 404.14,303.14 404.94,303.01 405.74,302.88 406.53,302.75 407.33,302.63 408.12,302.50 408.92,302.38 409.72,302.26 410.51,302.14 411.31,302.02 412.10,301.90 412.90,301.79 413.70,301.67 414.49,301.56 415.29,301.45 416.08,301.34 416.88,301.23 417.68,301.12 418.47,301.01 419.27,300.90 420.06,300.80 420.86,300.70 421.66,300.59 422.45,300.49 423.25,300.39 424.04,300.29 424.84,300.19 425.64,300.09 426.43,300.00 427.23,299.90 428.02,299.81 428.82,299.71 429.62,299.62 430.41,299.53 431.21,299.44 432.00,299.35 432.80,299.26 433.60,299.17 434.39,299.08 435.19,298.99 435.98,298.91 436.78,298.82 437.58,298.74 438.37,298.66 439.17,298.57 439.96,298.49 440.76,298.41 441.56,298.33 442.35,298.25 443.15,298.17 443.94,298.09 444.74,298.02 445.54,297.94 446.33,297.86 447.13,297.79 447.92,297.71 448.72,297.64 449.52,297.57 450.31,297.49 451.11,297.42 451.90,297.35 452.70,297.28" fill="none" stroke="#000" stroke-width="1.5"/>
<polyline points="293.50,408.60 294.30,407.68 295.09,406.82 295.89,406.03 296.68,405.28 297.48,404.58 298.28,403.92 299.07,403.30 299.87,402.72 300.66,402.17 301.46,401.64 302.26,401.15 303.05,400.68 303.85,400.24 304.64,399.81 305.44,399.41 306.24,399.02 307.03,398.66 307.83,398.30 308.62,397.97 309.42,397.65 310.22,397.34 311.01,397.04 311.81,396.76 312.60,396.49 313.40,396.23 314.20,395.97 314.99,395.73 315.79,395.50 316.58,395.27 317.38,395.05 318.18,394.84 318.97,394.64 319.77,394.44 320.56,394.25 321.36,394.07 322.16,393.89 322.95,393.72 323.75,393.55 324.54,393.39 325.34,393.23 326.14,393.08 326.93,392.93 327.73,392.79 328.52,392.65 329.32,392.51 330.12,392.38 330.91,392.25 331.71,392.13 332.50,392.01 333.30,391.89 334.10,391.77 334.89,391.66 335.69,391.55 336.48,391.44 337.28,391.34 338.08,391.23 338.87,391.14 339.67,391.04 340.46,390.94 341.26,390.85 342.06,390.76 342.85,390.67 343.65,390.58 344.44,390.50 345.24,390.42 346.04,390.33 346.83,390.26 347.63,390.18 348.42,390.10 349.22,390.03 350.02,389.95 350.81,389.88 351.61,389.81 352.40,389.74 353.20,389.68 354.00,389.61 354.79,389.54 355.59,389.48 356.38,389.42 357.18,389.36 357.98,389.30 358.77,389.24 359.57,389.18 360.36,389.12 361.16,389.07 361.96,389.01 362.75,388.96 363.55,388.91 364.34,388.85 365.14,388.80 365.94,388.75 366.73,388.70 367.53,388.65 368.32,388.61 369.12,388.56 369.92,388.51 370.71,388.47 371.51,388.42 372.30,388.38 373.10,388.33 373.90,388.29 374.69,388.25 375.49,388.21 376.28,388.17 377.08,388.13 377.88,388.09 378.67,388.05 379.47,388.01 380.26,387.97 381.06,387.93 381.86,387.90 382.65,387.86 383.45,387.83 384.24,387.79 385.04,387.76 385.84,387.72 386.63,387.69 387.43,387.65 388.22,387.62 389.02,387.59 389.82,387.56 390.61,387.53 391.41,387.50 392.20,387.46 393.00,387.43 393.80,387.40 394.59,387.37 395.39,387.35 396.18,387.32 396.98,387.29 397.78,387.26 398.57,387.23 399.37,387.21 400.16,387.18 400.96,387.15 401.76,387.13 402.55,387.10 403.35,387.07 404.14,387.05 404.94,387.02 405.74,387.00 406.53,386.97 407.33,386.95 408.12,386.93 408.92,386.90 409.72,386.88 410.51,386.86 411.31,386.83 412.10,386.81 412.90,386.79 413.70,386.77 414.49,386.74 415.29,386.72 416.08,386.70 416.88,386.68 417.68,386.66 418.47,386.64 419.27,386.62 420.06,386.60 420.86,386.58 421.66,386.56 422.45,386.54 423.25,386.52 424.04,386.50 424.84,386.48 425.64,386.46 426.43,386.44 427.23,386.43 428.02,386.41 428.82,386.39 429.62,386.37 430.41,386.35 431.21,386.34 432.00,386.32 432.80,386.30 433.60,386.29 434.39,386.27 435.19,386.25 435.98,386.24 436.78,386.22 437.58,386.20 438.37,386.19 439.17,386.17 439.96,386.16 440.76,386.14 441.56,386.12 442.35,386.11 443.15,386.09 443.94,386.08 444.74,386.06 445.54,386.05 446.33,386.04 447.13,386.02 447.92,386.01 448.72,385.99 449.52,385.98 450.31,385.96 451.11,385.95 451.90,385.94 452.70,385.92" fill="none" stroke="#000" stroke-width="1.7" stroke-dasharray="5.2,2.5"/>
<polyline points="293.50,408.60 294.30,407.67 295.09,406.82 295.89,406.04 296.68,405.33 297.48,404.68 298.28,404.07 299.07,403.52 299.87,403.00 300.66,402.51 301.46,402.06 302.26,401.64 303.05,401.25 303.85,400.88 304.64,400.53 305.44,400.20 306.24,399.88 307.03,399.59 307.83,399.31 308.62,399.05 309.42,398.80 310.22,398.56 311.01,398.33 311.81,398.11 312.60,397.90 313.40,397.71 314.20,397.52 314.99,397.33 315.79,397.16 316.58,396.99 317.38,396.83 318.18,396.68 318.97,396.53 319.77,396.39 320.56,396.25 321.36,396.12 322.16,395.99 322.95,395.87 323.75,395.75 324.54,395.64 325.34,395.53 326.14,395.42 326.93,395.32 327.73,395.22 328.52,395.12 329.32,395.02 330.12,394.93 330.91,394.84 331.71,394.76 332.50,394.67 333.30,394.59 334.10,394.51 334.89,394.44 335.69,394.36 336.48,394.29 337.28,394.22 338.08,394.15 338.87,394.08 339.67,394.02 340.46,393.95 341.26,393.89 342.06,393.83 342.85,393.77 343.65,393.72 344.44,393.66 345.24,393.60 346.04,393.55 346.83,393.50 347.63,393.45 348.42,393.40 349.22,393.35 350.02,393.30 350.81,393.25 351.61,393.21 352.40,393.16 353.20,393.12 354.00,393.08 354.79,393.03 355.59,392.99 356.38,392.95 357.18,392.91 357.98,392.87 358.77,392.84 359.57,392.80 360.36,392.76 361.16,392.73 361.96,392.69 362.75,392.66 363.55,392.62 364.34,392.59 365.14,392.56 365.94,392.52 366.73,392.49 367.53,392.46 368.32,392.43 369.12,392.40 369.92,392.37 370.71,392.34 371.51,392.31 372.30,392.29 373.10,392.26 373.90,392.23 374.69,392.21 375.49,392.18 376.28,392.15 377.08,392.13 377.88,392.10 378.67,392.08 379.47,392.05 380.26,392.03 381.06,392.01 381.86,391.98 382.65,391.96 383.45,391.94 384.24,391.92 385.04,391.90 385.84,391.87 386.63,391.85 387.43,391.83 388.22,391.81 389.02,391.79 389.82,391.77 390.61,391.75 391.41,391.73 392.20,391.71 393.00,391.70 393.80,391.68 394.59,391.66 395.39,391.64 396.18,391.62 396.98,391.61 397.78,391.59 398.57,391.57 399.37,391.55 400.16,391.54 400.96,391.52 401.76,391.50 402.55,391.49 403.35,391.47 404.14,391.46 404.94,391.44 405.74,391.43 406.53,391.41 407.33,391.40 408.12,391.38 408.92,391.37 409.72,391.35 410.51,391.34 411.31,391.32 412.10,391.31 412.90,391.30 413.70,391.28 414.49,391.27 415.29,391.26 416.08,391.24 416.88,391.23 417.68,391.22 418.47,391.21 419.27,391.19 420.06,391.18 420.86,391.17 421.66,391.16 422.45,391.15 423.25,391.13 424.04,391.12 424.84,391.11 425.64,391.10 426.43,391.09 427.23,391.08 428.02,391.07 428.82,391.05 429.62,391.04 430.41,391.03 431.21,391.02 432.00,391.01 432.80,391.00 433.60,390.99 434.39,390.98 435.19,390.97 435.98,390.96 436.78,390.95 437.58,390.94 438.37,390.93 439.17,390.92 439.96,390.91 440.76,390.90 441.56,390.89 442.35,390.89 443.15,390.88 443.94,390.87 444.74,390.86 445.54,390.85 446.33,390.84 447.13,390.83 447.92,390.82 448.72,390.81 449.52,390.81 450.31,390.80 451.11,390.79 451.90,390.78 452.70,390.77" fill="none" stroke="#000" stroke-width="1.7" stroke-dasharray="5.2,2.5"/>
</svg>
</body></html>
